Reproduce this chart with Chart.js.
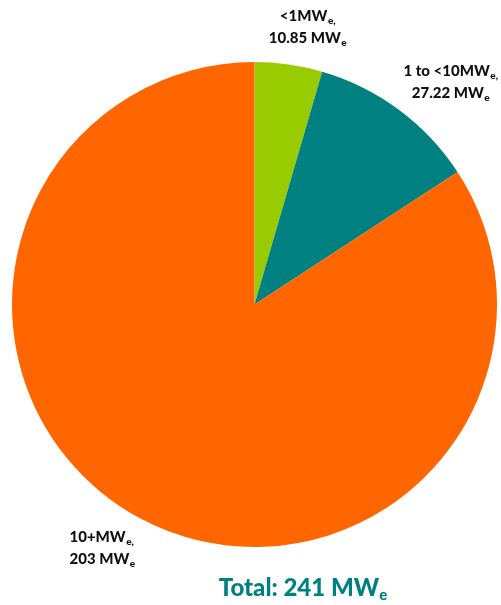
<!DOCTYPE html>
<html lang="en">
<head>
<meta charset="UTF-8">
<title>Capacity by size</title>
<script src="https://cdn.jsdelivr.net/npm/chart.js"></script>
<style>
  body { margin: 0; background: #fff; }
  #wrap { position: relative; width: 501px; height: 605px; }
  #total {
    position: absolute; left: 0; width: 606px; top: 572px;
    text-align: center; font: 900 24px Lato, sans-serif; color: #008080;
  }
  #total sub { font-size: 15px; vertical-align: -4px; }
</style>
</head>
<body>
<div id="wrap">
  <canvas id="pie" width="501" height="605"></canvas>
  <div id="total">Total: 241 MW<sub>e</sub></div>
</div>
<script>
// slices, clockwise from 12 o'clock
const sizeBands = ['<1MW', '1 to <10MW', '10+MW'];
const capacity = [10.85, 27.22, 203];
const capacityText = ['10.85', '27.22', '203'];
const sliceColours = ['#99cc00', '#008080', '#ff6600'];

// where each label block sits, relative to the pie centre (px)
const labelSpots = [
  { dx: 53, dy: -284, align: 'center' },
  { dx: 196, dy: -229, align: 'center' },
  { dx: -185, dy: 237, align: 'left' }
];

const mainFont = '900 15px Lato, sans-serif';
const subFont = '900 10px Lato, sans-serif';

// draws text then a small lowered part
function textWithSub(ctx, main, sub, x, y, align) {
  ctx.font = mainFont;
  const w1 = ctx.measureText(main).width;
  ctx.font = subFont;
  const w2 = ctx.measureText(sub).width;
  let left = x;
  if (align === 'center') left = x - (w1 + w2) / 2;
  ctx.textAlign = 'left';
  ctx.font = mainFont;
  ctx.fillText(main, left, y);
  ctx.font = subFont;
  ctx.fillText(sub, left + w1 + 0.5, y + 3);
}

const sliceLabels = {
  id: 'sliceLabels',
  afterDraw(chart) {
    const ctx = chart.ctx;
    const arc0 = chart.getDatasetMeta(0).data[0];
    const cx = arc0.x, cy = arc0.y;
    ctx.save();
    ctx.fillStyle = '#111';
    ctx.textBaseline = 'alphabetic';
    sizeBands.forEach((band, i) => {
      const s = labelSpots[i];
      textWithSub(ctx, band, 'e,', cx + s.dx, cy + s.dy, s.align);
      textWithSub(ctx, capacityText[i] + ' MW', 'e', cx + s.dx, cy + s.dy + 22, s.align);
    });
    ctx.restore();
  }
};

new Chart(document.getElementById('pie'), {
  type: 'pie',
  data: {
    labels: sizeBands,
    datasets: [{
      data: capacity,
      backgroundColor: sliceColours,
      borderWidth: 0
    }]
  },
  options: {
    responsive: false,
    animation: false,
    layout: { padding: { left: 12, right: 4, top: 62, bottom: 58 } },
    plugins: {
      legend: { display: false },
      tooltip: { enabled: false }
    }
  },
  plugins: [sliceLabels]
});
</script>
</body>
</html>
